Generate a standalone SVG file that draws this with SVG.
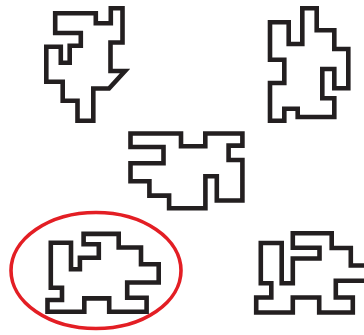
<svg xmlns="http://www.w3.org/2000/svg" width="364" height="335" viewBox="0 0 364 335">
<style>
.p{fill:none;stroke:#231f20;stroke-width:4.6;stroke-linejoin:miter;stroke-miterlimit:10}
.c{fill:none;stroke:#e31e24;stroke-width:3.6}
</style>
<rect width="364" height="335" fill="#fff"/>
<g id="shape1"><polygon class="p" points="55.2,13.2 95.8,13.2 95.8,23.3 110.8,23.3 110.8,8.3 122.5,8.3 122.5,42.5 110.5,42.5 110.5,71 125,71 109,88.5 93.3,88.5 93.3,120.8 77.5,120.8 77.5,100.8 62.7,100.8 62.7,81.8 46.3,81.8 46.3,46.7 60.8,46.7 60.8,62.7 69.7,62.7 69.7,45.8 80.8,45.8 80.8,33 55.2,33"/></g>
<g id="shape2"><polygon class="p" points="302.3,8.3 316.7,8.3 316.7,30.3 334.3,30.3 334.3,49 348.3,49 348.3,88.3 334.3,88.3 334.3,69 322.3,69 322.3,98.3 334.3,98.3 334.3,117 297.7,117 297.7,108.7 284.3,108.7 284.3,120.7 270,120.7 270,83 284.3,83 284.3,59.7 270,59.7 270,22.3 288.7,22.3 288.7,44 302.3,44"/></g>
<g id="shape3"><polygon class="p" points="130.5,133.5 181,133.5 181,146.2 205.3,146.2 205.3,133.5 242.4,133.5 242.4,145.6 228.6,145.6 228.6,160 242.4,160 242.4,200.5 216.8,200.5 216.8,176.2 205.4,176.2 205.4,208.3 169.1,208.3 169.1,195.6 149.4,195.6 149.4,181.2 130.5,181.2 130.5,163.3 163.5,163.3 163.5,147 130.5,147"/></g>
<g id="shape4"><ellipse class="c" cx="96" cy="270.5" rx="85" ry="58"/><polygon class="p" points="83.6,233.9 118.7,233.9 118.7,247.5 141,247.5 141,264.2 158.7,264.2 158.7,282.5 127.2,282.5 127.2,297.7 146.6,297.7 146.6,311.8 109.2,311.8 109.2,298.4 84.3,298.4 84.3,311.8 47.5,311.8 47.5,300 62,300 62,287.7 50.8,287.7 50.8,242.7 71,242.7 71,269.2 79.9,269.2 79.9,257.8 98.8,257.8 98.8,244.3 83.6,244.3"/></g>
<g id="shape5"><polygon class="p" points="292.8,233.3 331.7,233.3 331.7,248 350.8,248 350.8,265.5 368,265.5 368,280.8 335.8,280.8 335.8,297.5 352.8,297.5 352.8,312.5 319.2,312.5 319.2,297.5 292.8,297.5 292.8,312.5 256.2,312.5 256.2,297.5 271.3,297.5 271.3,283.3 260.8,283.3 260.8,243 281.7,243 281.7,283.3 292.8,283.3 292.8,258.5 319.5,258.5 319.5,247.8 292.8,247.8"/></g>
</svg>
